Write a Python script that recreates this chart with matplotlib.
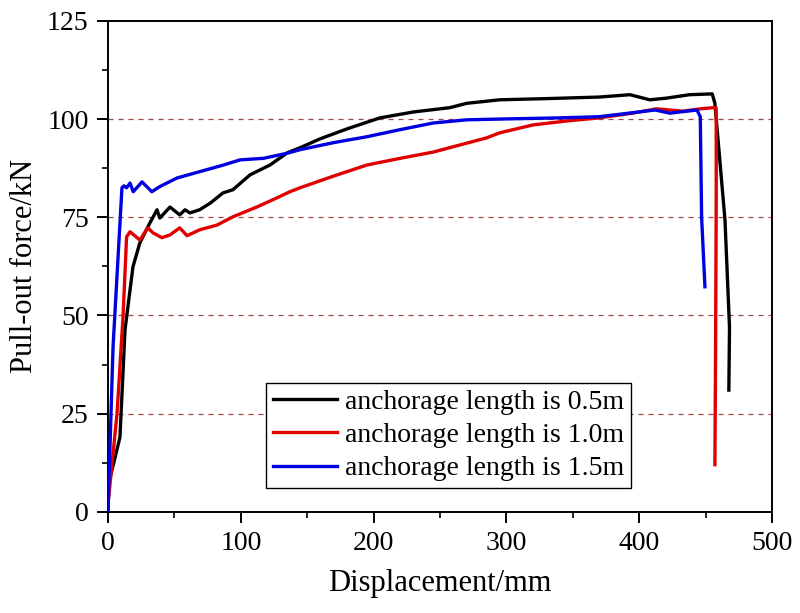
import numpy as np
import matplotlib.pyplot as plt
from matplotlib.ticker import MultipleLocator

plt.rcParams["font.family"] = ["Liberation Serif", "DejaVu Serif"]

# anchorage length 0.5 m
x_05 = [0, 0.7, 9, 12.8, 18.8, 24, 31.6, 36.9, 39, 46.7, 54, 58, 61.7, 69, 77,
        86.6, 94, 107, 122, 135, 144.6, 160, 180, 204.8, 230, 257.5, 270, 295,
        330, 370, 393, 408, 420, 438, 455, 457, 464.6, 468, 467.5]
f_05 = [0, 7.4, 19, 46.3, 62.4, 68.5, 73.6, 76.9, 74.8, 77.6, 75.6, 76.9, 76.1,
        76.9, 78.6, 81.2, 82, 85.8, 88.3, 91.4, 92.7, 95, 97.5, 100.3, 101.8,
        102.9, 104, 104.9, 105.2, 105.6, 106.2, 104.9, 105.3, 106.2, 106.4, 104,
        74.3, 47, 31]

# anchorage length 1.0 m
x_10 = [0, 6.8, 11.3, 14, 16.6, 24, 30, 34, 40.6, 46.7, 54, 59.5, 69, 82, 94,
        112, 127, 137, 144.6, 170, 195, 220, 245, 265, 285, 295, 320, 345, 370,
        395, 413, 433, 446, 456, 458, 458, 457.5, 457]
f_10 = [2, 25, 49.6, 70, 71.3, 69.2, 72.3, 71, 69.8, 70.5, 72.3, 70.3, 71.8,
        73, 75.1, 77.6, 79.9, 81.5, 82.5, 85.5, 88.3, 90, 91.6, 93.4, 95.2, 96.5,
        98.5, 99.5, 100.3, 101.5, 102.6, 102, 102.6, 102.9, 102.8, 80, 40, 12]

# anchorage length 1.5 m
x_15 = [0, 3.8, 10.5, 12, 14, 16.6, 19, 25.6, 33, 39, 52, 69, 87, 99.4, 117,
        135, 144.6, 170, 195, 220, 245, 270, 295, 340, 370, 412, 423, 443.5,
        446, 447, 449.5]
f_15 = [0, 42, 82.5, 83, 82.5, 83.7, 81.5, 84, 81.5, 82.8, 85, 86.6, 88.3, 89.6,
        90, 91.3, 92.2, 94, 95.5, 97.3, 99, 99.8, 100, 100.3, 100.6, 102.3,
        101.5, 102.3, 100.6, 75, 57.3]

fig = plt.figure(figsize=(8, 6.13), dpi=100)
ax = fig.add_axes([0.135, 0.165, 0.83, 0.801])

for yv in [25, 50, 75, 100]:
    ax.axhline(yv, color="#a04848", linestyle=(0, (4, 4)), linewidth=0.9, zorder=1)

ax.plot(x_05, f_05, color="black", linewidth=2.4, label="anchorage length is 0.5m", zorder=3)
ax.plot(x_10, f_10, color="#e00000", linewidth=2.4, label="anchorage length is 1.0m", zorder=3)
ax.plot(x_15, f_15, color="#0000e0", linewidth=2.4, label="anchorage length is 1.5m", zorder=3)

ax.set_xlim(0, 500)
ax.set_ylim(0, 125)
ax.xaxis.set_major_locator(MultipleLocator(100))
ax.xaxis.set_minor_locator(MultipleLocator(50))
ax.yaxis.set_major_locator(MultipleLocator(25))
ax.yaxis.set_minor_locator(MultipleLocator(12.5))
ax.tick_params(which="major", direction="out", length=8, width=1.4, labelsize=20, pad=6)
ax.tick_params(which="minor", direction="out", length=4.5, width=1.2)
for s in ax.spines.values():
    s.set_linewidth(1.4)

ax.set_xlabel("Displacement/mm", fontsize=22, labelpad=9)
ax.set_ylabel("Pull-out force/kN", fontsize=22, labelpad=6)

leg = ax.legend(loc="lower left", bbox_to_anchor=(0.238, 0.048), fontsize=20,
                frameon=True, fancybox=False, framealpha=1, edgecolor="black",
                handlelength=2.3, handletextpad=0.3, borderpad=0.25,
                labelspacing=0.28, borderaxespad=0)
leg.get_frame().set_linewidth(1.0)

fig.savefig("out.png", dpi=100)
